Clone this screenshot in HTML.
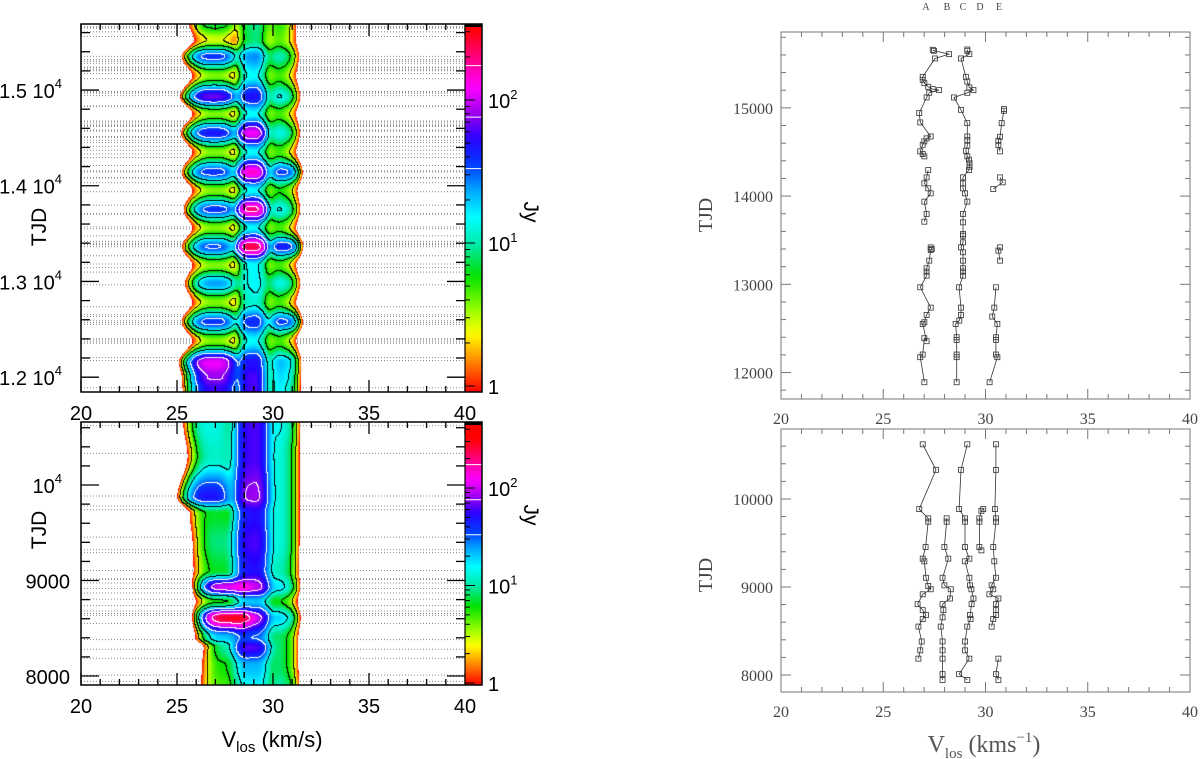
<!DOCTYPE html>
<html><head><meta charset="utf-8">
<style>
html,body{margin:0;padding:0;background:#fff;}
#root{position:relative;width:1200px;height:759px;overflow:hidden;background:#fff;}
canvas,svg{position:absolute;left:0;top:0;}
</style></head>
<body>
<div id="root">
<svg id="under" width="1200" height="759"></svg>
<canvas id="heatTop" width="384" height="368" style="left:81px;top:24px"></canvas>
<canvas id="heatBot" width="384" height="263" style="left:81px;top:422px"></canvas>
<svg id="main" width="1200" height="759"></svg>
</div>
<script>
// ---------------- DATA: heatmap rows (top left panel) ----------------
const topRowT = [11880,12000,12150,12380,12576,12780,12980,13170,13360,13560,13750,13950,14140,14350,14550,14750,14930,15150,15350,15520,15700];
const topAmpA = [60,80,120,4,40,4,25,4,35,4,40,4,40,4,50,4,70,4,40,3,8];
const topAmpC = [60,60,50,15,40,12,14,15,250,15,200,15,150,15,120,15,50,15,25,8,8];
const topAmpD = [8,8,8,3.5,10,3.5,7,3.5,10,3.5,8,3.5,10,3.5,8,3.5,8,3.5,7,3,4];
const topAmpE = [10,12,15,2,30,2,8,2,40,2,8,3,30,2,7,2,8,2,5,2,2];
const topPosA = [27,27,26.9,27,26.9,27,27,27,26.9,27,27,27,26.9,27,26.9,27,26.9,27,26.9,27,27];
// ---------------- DATA: heatmap rows (bottom left panel) ----------------
const botRowT = [7900,8100,8300,8400,8610,8780,8930,9100,9400,9700,9870,10300,10660];
const botAmpA = [5,6,10,20,280,6,110,7,9,7,50,12,14];
const botAmpC = [15,20,60,30,80,20,90,50,60,50,80,60,60];
const botAmpD = [5,5,5,5,10,4,10,7,8,8,8,8,8];
const botAmpE = [6,4,4,4,10,3,8,5,6,6,6,6,8];
const botPosA = [27.5,27.6,27.8,27.5,27.7,27.3,27.6,27.2,27.2,27.0,26.7,27.0,26.8];
// ---------------- DATA: right panel velocity series ----------------
const rtA_t=[11890,12174,12204,12389,12355,12551,12570,12653,12736,12966,13098,13144,13182,13268,13389,13400,13419,null,13710,13797,13937,14031,14088,14144,14212,14295,null,14450,14476,14507,14582,14620,14654,14676,14835,14941,15118,15171,15201,15213,15239,15280,15318,15352,15560,15609,15647,15658];
const rtA_v=[27.01,26.81,26.93,27.01,27.12,26.93,27.01,27.12,27.32,26.81,27.12,27.12,27.12,27.25,27.32,27.37,27.32,null,27.01,27.12,27.01,27.32,27.2,27.01,27.12,27.2,null,27.01,26.93,26.81,26.93,27.01,27.12,27.32,26.81,26.76,27.12,27.25,27.73,27.42,27.2,27.01,26.93,26.93,27.53,28.22,27.48,27.42];
const rtC_t=[11890,12174,12204,12370,12400,12551,12589,12653,12736,12966,13098,13144,13182,13268,13363,13419,13476,13551,13570,13702,13797,13937,14031,14088,14144,14212,14295,14333,14371,14412,14450,14514,14571,14635,14676,14827,14978,15118,15171,15201,15231,15299,15352,15560,15609,15647,15662];
const rtC_v=[28.59,28.59,28.59,28.59,28.59,28.54,28.72,28.8,28.8,28.71,28.9,28.9,28.9,28.9,28.9,28.8,28.9,28.9,28.9,28.9,28.9,29.11,29.0,28.9,28.9,28.9,29.19,29.22,29.22,29.19,29.11,29.04,29.11,29.11,29.11,29.11,28.8,28.46,29.11,29.41,29.21,29.11,29.04,28.8,29.21,29.11,29.11];
const rtE_t=[11890,12174,12204,12370,12400,12551,12634,12736,12966,null,13268,13382,13419,null,14080,14156,14212,null,14507,14578,14627,14673,14827,14967,14986];
const rtE_v=[30.2,30.58,30.51,30.51,30.51,30.58,30.33,30.43,30.51,null,30.71,30.63,30.71,null,30.38,30.84,30.71,null,30.71,30.63,30.63,30.71,30.79,30.9,30.9];
const rbA_t=[10621,10331,9885,9780,9742,9454,9322,9292,9105,9011,8974,8917,8805,8737,8681,8636,8550,8381,8280,8186];
const rbA_v=[26.93,27.58,26.76,27.2,27.2,27.07,26.93,27.01,27.09,27.2,27.32,26.93,26.68,26.93,27.09,26.93,26.72,26.88,26.81,26.72];
const rbB_t=[9780,9742,9454,9322,9105,9019,8974,8869,8805,8737,8655,8550,8381,8280,8186,8010,7944];
const rbB_v=[28.1,28.1,27.99,28.18,27.9,27.99,28.3,28.26,27.9,27.94,27.9,27.81,27.9,27.9,27.9,27.9,27.9];
const rbC_t=[10621,10331,9885,9780,9742,9454,9322,9292,9105,9019,8974,8869,8805,8681,8636,8550,8381,8280,8186,8010,7944];
const rbC_v=[29.11,28.8,28.71,29.0,29.0,29.0,29.21,29.0,29.21,29.24,29.31,29.41,29.32,29.24,29.27,29.11,29.0,29.0,29.21,28.71,29.11];
const rbD_t=[9885,9866,9780,9742,9454,9416];
const rbD_v=[29.89,29.8,29.7,29.7,29.7,29.8];
const rbE_t=[10621,10331,9885,9780,9742,9454,9292,9105,9019,8974,8917,8869,8805,8737,8681,8636,8550,null,8186,8010,7944];
const rbE_v=[30.51,30.51,30.46,30.51,30.51,30.38,30.43,30.51,30.3,30.38,30.19,30.63,30.51,30.51,30.51,30.38,30.3,null,30.63,30.51,30.63];
// tick labels
const xTickLabels=['20','25','30','35','40'];
const rtYTicks=[12000,13000,14000,15000];
const rbYTicks=[8000,9000,10000];
const compLetters=['A','B','C','D','E'];

// ---------------- helpers ----------------
const NS='http://www.w3.org/2000/svg';
const under=document.getElementById('under');
const main=document.getElementById('main');
function mk(parent,tag,attrs){const e=document.createElementNS(NS,tag);for(const k in attrs)e.setAttribute(k,attrs[k]);parent.appendChild(e);return e;}
function lin(d0,d1,r0,r1){return v=>r0+(v-d0)/(d1-d0)*(r1-r0);}

const LT={x0:81,x1:465,y0:24,y1:392,t0:11845,t1:15690};
const LB={x0:81,x1:465,y0:422,y1:685,t0:7906,t1:10660};
const RT={x0:781,x1:1190,y0:32,y1:399,t0:11700,t1:15860};
const RB={x0:781,x1:1190,y0:429,y1:692,t0:7807,t1:10795};
[LT,LB,RT,RB].forEach(p=>{p.x=lin(20,40,p.x0,p.x1);p.y=lin(p.t0,p.t1,p.y1,p.y0);});

// ---------------- colormap ----------------
const stops=[[0,[255,0,0]],[0.2,[255,128,0]],[0.4,[255,255,0]],[0.55,[160,255,0]],[0.8,[0,225,0]],[1.0,[0,232,160]],[1.2,[0,255,255]],[1.4,[0,160,255]],[1.55,[0,64,255]],[1.75,[40,0,255]],[1.9,[150,0,240]],[2.1,[255,0,255]],[2.3,[255,0,128]],[2.5,[255,0,0]],[3,[255,0,0]]];
function cmap(l){for(let i=1;i<stops.length;i++){if(l<=stops[i][0]){const a=stops[i-1],b=stops[i];const f=(l-a[0])/(b[0]-a[0]);return [0,1,2].map(k=>Math.round(a[1][k]+f*(b[1][k]-a[1][k])));}}return [255,0,0];}
const bounds=[0,0.45,0.8,1.16,1.52,1.88,2.24];
function band(l){let b=0;for(let i=0;i<bounds.length;i++)if(l>=bounds[i])b=i+1;return b;}

function interp(rowT,arr,t,isLog){let i=0;if(t<=rowT[0])return arr[0];if(t>=rowT[rowT.length-1])return arr[arr.length-1];while(rowT[i+1]<t)i++;let f=(t-rowT[i])/(rowT[i+1]-rowT[i]);f=f*f*(3-2*f);if(isLog)return Math.exp(Math.log(arr[i])*(1-f)+Math.log(arr[i+1])*f);return arr[i]*(1-f)+arr[i+1]*f;}
function g(v,c,s){const d=Math.abs((v-c)/s);return Math.exp(-0.5*d*d*d);}

function drawHeat(id,P,rowT,aA,aC,aD,aE,pA,sC){
  const cv=document.getElementById(id),ctx=cv.getContext('2d');
  const w=cv.width,h=cv.height,img=ctx.createImageData(w,h);
  const bandArr=new Int8Array(w*h);
  for(let j=0;j<h;j++){
    const t=P.t1-(j+0.5)/h*(P.t1-P.t0);
    const A=interp(rowT,aA,t,true),C=interp(rowT,aC,t,true),D=interp(rowT,aD,t,true),E=interp(rowT,aE,t,true),ca=interp(rowT,pA,t,false);
    for(let i=0;i<w;i++){
      const v=20+(i+0.5)/w*20;
      const val=A*g(v,ca,0.85)+C*g(v,28.9,sC)+D*g(v,29.95,0.7)+E*g(v,30.6,0.5);
      const idx=j*w+i;
      if(val<1){bandArr[idx]=0;continue;}
      const l=Math.log10(val);bandArr[idx]=band(l);
      const c=cmap(l);img.data[idx*4]=c[0];img.data[idx*4+1]=c[1];img.data[idx*4+2]=c[2];img.data[idx*4+3]=255;
    }
  }
  for(let j=0;j<h;j++)for(let i=0;i<w;i++){
    const idx=j*w+i,b=bandArr[idx];
    const br=i+1<w?bandArr[idx+1]:b,bd=j+1<h?bandArr[idx+w]:b;
    if(b!==br||b!==bd){const m=Math.max(b,br,bd);if(m<=1)continue;const white=m>=5;const col=white?255:0;
      img.data[idx*4]=col;img.data[idx*4+1]=col;img.data[idx*4+2]=col;img.data[idx*4+3]=255;}
  }
  ctx.putImageData(img,0,0);
}
drawHeat('heatTop',LT,topRowT,topAmpA,topAmpC,topAmpD,topAmpE,topPosA,0.5);
drawHeat('heatBot',LB,botRowT,botAmpA,botAmpC,botAmpD,botAmpE,botPosA,0.65);

// ---------------- dotted epoch lines (left panels) ----------------
function epochs(lists,P){const s=new Set();lists.forEach(a=>a.forEach(t=>{if(t!==null&&t>=P.t0&&t<=P.t1)s.add(t);}));return [...s];}
function drawEpochs(P,lists,name){
  epochs(lists,P).forEach(t=>{
    const ln=mk(under,'line',{x1:P.x0,x2:P.x1,y1:P.y(t),y2:P.y(t),stroke:'#888','stroke-width':1,'stroke-dasharray':'1,2'});
    
    
  });
}
drawEpochs(LT,[rtA_t,rtC_t,rtE_t],'epoch-line-top');
drawEpochs(LB,[rbA_t,rbB_t,rbC_t,rbE_t],'epoch-line-bottom');

// ---------------- left axes ----------------
function leftAxes(P,name,yLabels,cbLog0,cbDec,tjdY){
  const gEl=mk(main,'g',{});
  mk(gEl,'line',{x1:P.x(28.5),x2:P.x(28.5),y1:P.y0,y2:P.y1,stroke:'#000','stroke-width':1.5,'stroke-dasharray':'6,4'});
  for(let v=20;v<=40;v++){const x=P.x(v),L=(v%5===0)?12:6;
    mk(gEl,'line',{x1:x,x2:x,y1:P.y0,y2:P.y0+L,stroke:'#000','stroke-width':1.3});
    mk(gEl,'line',{x1:x,x2:x,y1:P.y1,y2:P.y1-L,stroke:'#000','stroke-width':1.3});}
  const st=Math.ceil(P.t0/200)*200;
  for(let t=st;t<=P.t1;t+=200){const y=P.y(t),L=(t%1000===0)?18:9;
    mk(gEl,'line',{x1:P.x0,x2:P.x0+L,y1:y,y2:y,stroke:'#000','stroke-width':1.3});
    mk(gEl,'line',{x1:P.x1,x2:P.x1-L,y1:y,y2:y,stroke:'#000','stroke-width':1.3});}
  const cb={x0:465,x1:482};
  const grad=mk(gEl,'defs',{});
  const lg=mk(grad,'linearGradient',{id:name+'-grad',x1:0,y1:1,x2:0,y2:0});
  const topLog=(cbLog0-P.y0)/cbDec;
  for(let k=0;k<=40;k++){const l=k/40*topLog;const c=cmap(l);mk(lg,'stop',{offset:(k/40),'stop-color':'rgb('+c.join(',')+')'});}
  const r=mk(gEl,'rect',{x:cb.x0,y:P.y0,width:cb.x1-cb.x0,height:P.y1-P.y0,fill:'url(#'+name+'-grad)'});
  
  
  mk(gEl,'rect',{x:cb.x0,y:P.y0,width:cb.x1-cb.x0,height:3,fill:'#000'});
  [1.52,1.88,2.24].forEach(l=>{const y=cbLog0-l*cbDec;if(y>P.y0)mk(gEl,'line',{x1:cb.x0,x2:cb.x1,y1:y,y2:y,stroke:'#fff','stroke-width':1});});
  for(let d=0;d<3;d++)for(let m=1;m<10;m++){const y=cbLog0-(d+Math.log10(m))*cbDec;if(y<P.y0||y>P.y1)continue;
    mk(gEl,'line',{x1:cb.x0,x2:cb.x0+(m===1?10:5),y1:y,y2:y,stroke:'#000','stroke-width':1});}
  mk(gEl,'line',{x1:cb.x0,x2:cb.x0,y1:P.y0,y2:P.y1,stroke:'#000','stroke-width':1.2});
  mk(gEl,'rect',{x:P.x0,y:P.y0,width:cb.x1-P.x0,height:P.y1-P.y0,fill:'none',stroke:'#000','stroke-width':1.5});
  const labs=[['1',0],['10',1,'1'],['10',2,'2']];
  labs.forEach(a=>{const y=cbLog0-a[1]*cbDec+8;const t=mk(gEl,'text',{x:488,y:y,'font-family':'Liberation Sans, DejaVu Sans, sans-serif','font-size':20,fill:'#000'});t.textContent=a[0];
    if(a[2]){const s=mk(t,'tspan',{dy:-9,'font-size':13});s.textContent=a[2];}
    });
  yLabels.forEach(a=>{const t=mk(gEl,'text',{x:a[2]?62:70,y:P.y(a[0])+8,'text-anchor':'end','font-family':'Liberation Sans, DejaVu Sans, sans-serif','font-size':20,fill:'#000'});t.textContent=a[1];
    if(a[2]){const s=mk(t,'tspan',{dy:-10,'font-size':13});s.textContent=a[2];}
    });
  const tj=mk(gEl,'text',{x:0,y:0,transform:'translate(46,'+tjdY+') rotate(-90)','text-anchor':'middle','font-family':'Liberation Sans, DejaVu Sans, sans-serif','font-size':21});tj.textContent='TJD';
  
  const jy=mk(gEl,'text',{x:0,y:0,transform:'translate(524,'+(tjdY-15)+') rotate(90)','text-anchor':'middle','font-family':'Liberation Sans, DejaVu Sans, sans-serif','font-size':21});jy.textContent='Jy';
  
}
leftAxes(LT,'left-top-panel',[[12000,'1.2  10','4'],[13000,'1.3  10','4'],[14000,'1.4  10','4'],[15000,'1.5  10','4']],386,143,227);
leftAxes(LB,'left-bottom-panel',[[8000,'8000'],[9000,'9000'],[10000,'10','4']],683,97.5,530);
[LB.y0-2,713].forEach((yy,k)=>{xTickLabels.forEach(s=>{const t=mk(main,'text',{x:LT.x(+s),y:yy,'text-anchor':'middle','font-family':'Liberation Sans, DejaVu Sans, sans-serif','font-size':20});t.textContent=s;
  });});
(function(){const t=mk(main,'text',{x:272,y:747,'text-anchor':'middle','font-family':'Liberation Sans, DejaVu Sans, sans-serif','font-size':22});t.textContent='V';
 const s=mk(t,'tspan',{dy:5,'font-size':15});s.textContent='los';const s2=mk(t,'tspan',{dy:-5});s2.textContent='  (km/s)';
 })();

// ---------------- right panels ----------------
function rightAxes(P,name,yTicks,tjdY){
  const gEl=mk(main,'g',{});
  const col='#777';
  mk(gEl,'rect',{x:P.x0,y:P.y0,width:P.x1-P.x0,height:P.y1-P.y0,fill:'none',stroke:col,'stroke-width':1});
  for(let v=20;v<=40;v++){const x=P.x(v),L=(v%5===0)?10:5;
    mk(gEl,'line',{x1:x,x2:x,y1:P.y0,y2:P.y0+L,stroke:col});mk(gEl,'line',{x1:x,x2:x,y1:P.y1,y2:P.y1-L,stroke:col});}
  const st=Math.ceil(P.t0/200)*200;
  for(let t=st;t<=P.t1;t+=200){const y=P.y(t),L=(t%1000===0)?10:5;
    mk(gEl,'line',{x1:P.x0,x2:P.x0+L,y1:y,y2:y,stroke:col});mk(gEl,'line',{x1:P.x1,x2:P.x1-L,y1:y,y2:y,stroke:col});}
  yTicks.forEach(tv=>{const t=mk(gEl,'text',{x:773,y:P.y(tv)+6,'text-anchor':'end','font-family':'Liberation Serif, serif','font-size':16,fill:'#444'});t.textContent=String(tv);
    });
  xTickLabels.forEach(s=>{const t=mk(gEl,'text',{x:P.x(+s),y:P.y1+25,'text-anchor':'middle','font-family':'Liberation Serif, serif','font-size':16,fill:'#444'});t.textContent=s;
    });
  const tj=mk(gEl,'text',{x:0,y:0,transform:'translate(712,'+tjdY+') rotate(-90)','text-anchor':'middle','font-family':'Liberation Serif, serif','font-size':20,fill:'#444'});tj.textContent='TJD';
  
}
rightAxes(RT,'right-top-panel',rtYTicks,215);
rightAxes(RB,'right-bottom-panel',rbYTicks,575);
function series(P,ts,vs,name){
  let d='',pen=false;
  for(let i=0;i<ts.length;i++){if(ts[i]===null){pen=false;continue;}
    const x=P.x(vs[i]),y=P.y(ts[i]);d+=(pen?'L':'M')+x.toFixed(1)+','+y.toFixed(1);pen=true;}
  const p=mk(main,'path',{d:d,fill:'none',stroke:'#333','stroke-width':0.8});
  
  for(let i=0;i<ts.length;i++){if(ts[i]===null)continue;
    const r=mk(main,'rect',{x:P.x(vs[i])-2.5,y:P.y(ts[i])-2.5,width:5,height:5,fill:'none',stroke:'#333','stroke-width':0.8});
    }
}
series(RT,rtA_t,rtA_v,'series-a-top');series(RT,rtC_t,rtC_v,'series-c-top');series(RT,rtE_t,rtE_v,'series-e-top');
series(RB,rbA_t,rbA_v,'series-a-bottom');series(RB,rbB_t,rbB_v,'series-b-bottom');series(RB,rbC_t,rbC_v,'series-c-bottom');series(RB,rbD_t,rbD_v,'series-d-bottom');series(RB,rbE_t,rbE_v,'series-e-bottom');
const letterX=[926,947,963,980,999];
compLetters.forEach((s,i)=>{const t=mk(main,'text',{x:letterX[i],y:10,'text-anchor':'middle','font-family':'Liberation Serif, serif','font-size':10,fill:'#444'});t.textContent=s;
  });
(function(){const t=mk(main,'text',{x:984,y:752,'text-anchor':'middle','font-family':'Liberation Serif, serif','font-size':24,fill:'#555'});t.textContent='V';
 const s=mk(t,'tspan',{dy:6,'font-size':15});s.textContent='los';const s2=mk(t,'tspan',{dy:-6});s2.textContent=' (kms';const s3=mk(t,'tspan',{dy:-10,'font-size':15});s3.textContent='−1';const s4=mk(t,'tspan',{dy:10});s4.textContent=')';
 })();
</script>
</body></html>
